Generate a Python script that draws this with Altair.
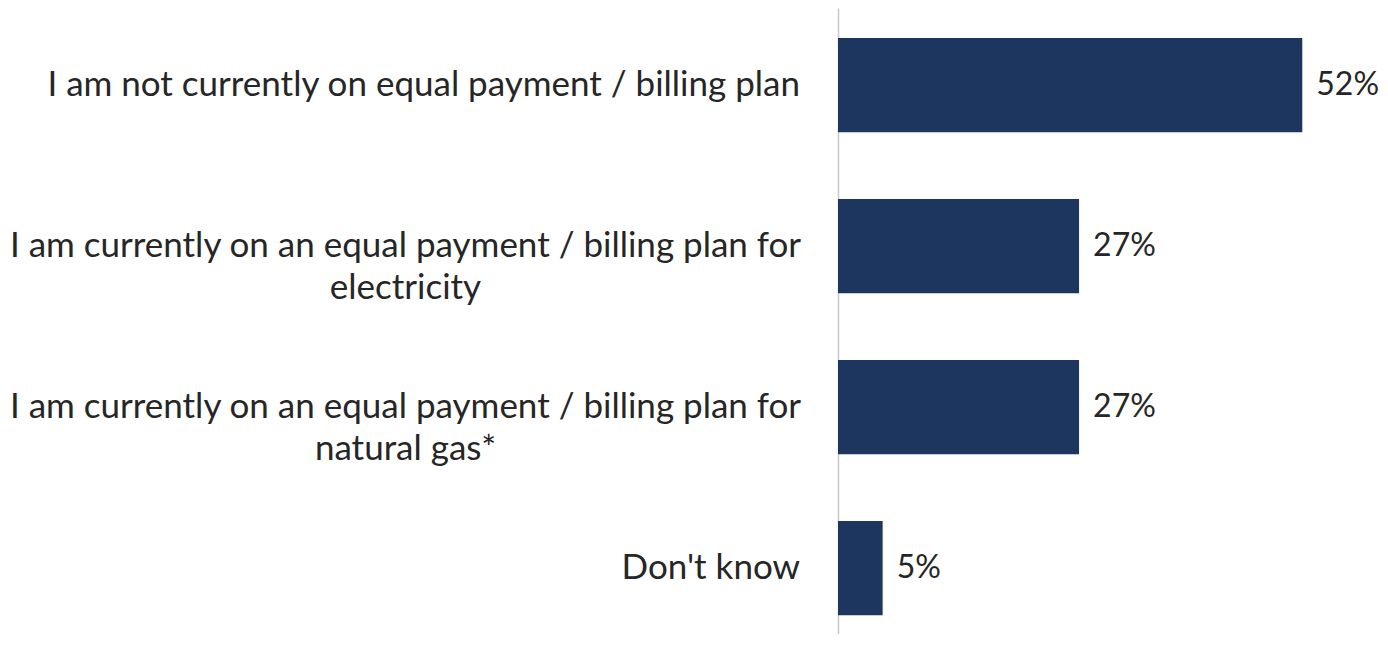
import altair as alt
import pandas as pd

categories = [
    "I am not currently on equal payment / billing plan",
    "I am currently on an equal payment / billing plan for|electricity",
    "I am currently on an equal payment / billing plan for|natural gas*",
    "Don't know",
]
values = [52, 27, 27, 5]
value_labels = ["52%", "27%", "27%", "5%"]

df = pd.DataFrame({"category": categories, "value": values, "label": value_labels})

FONT = "Lato"
FS = 35
TXT = "#262626"
BAR = "#1d3660"

multi = "indexof(datum.value, '|') >= 0"

y = alt.Y(
    "category:N",
    sort=categories,
    title=None,
    scale=alt.Scale(paddingInner=0.415, paddingOuter=0.1515, align=0.615),
    axis=alt.Axis(
        ticks=False,
        tickSize=0,
        domainColor="#c8c8c8",
        domainWidth=1.5,
        labelExpr="split(datum.label, '|')",
        labelAlign={"condition": {"test": multi, "value": "center"}, "value": "right"},
        labelPadding={"condition": {"test": multi, "value": 433}, "value": 38.5},
        labelFont=FONT,
        labelFontSize=FS,
        labelColor=TXT,
        labelLimit=1200,
        labelLineHeight=42,
        labelBaseline="middle",
    ),
)
x = alt.X("value:Q", scale=alt.Scale(domain=[0, 56]), axis=None)

bars = alt.Chart(df).mark_bar(color=BAR).encode(x=x, y=y)
texts = alt.Chart(df).mark_text(
    align="left", baseline="middle", dx=14, font=FONT, fontSize=32, color=TXT
).encode(x=x, y=alt.Y("category:N", sort=categories), text="label:N")

chart = (
    alt.layer(bars, texts)
    .properties(width=500, height=626, padding={"left": 0, "top": 0, "right": 0, "bottom": 0})
    .configure_view(stroke=None)
)

chart.save("out.html", embed_options={"renderer": "svg", "actions": False})
